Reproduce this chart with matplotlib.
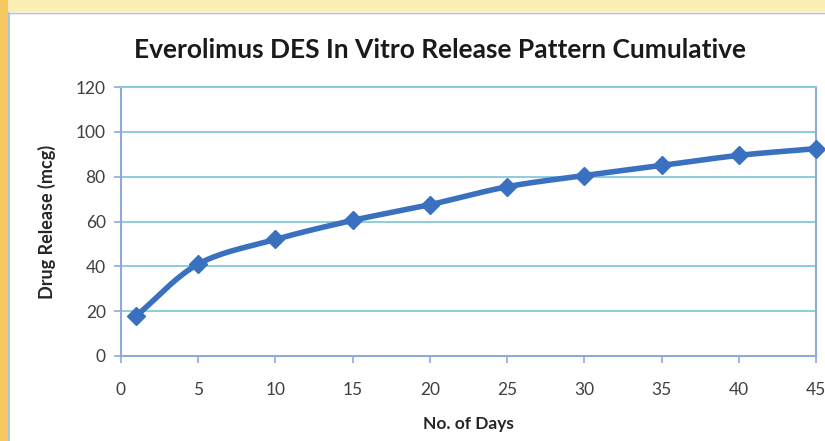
import numpy as np
import matplotlib.pyplot as plt
from matplotlib.patches import Rectangle

days = [1, 5, 10, 15, 20, 25, 30, 35, 40, 45]
release = [18, 41, 52, 60.5, 67.5, 75.5, 80.5, 85, 89.5, 92.5]
x_ticks = [0, 5, 10, 15, 20, 25, 30, 35, 40, 45]
y_ticks = [0, 20, 40, 60, 80, 100, 120]


def smooth(xs, ys, n=20):
    # Catmull-Rom curve through the points, like Excel's smoothed line
    xs = np.asarray(xs, float)
    ys = np.asarray(ys, float)
    px = np.concatenate([[2 * xs[0] - xs[1]], xs, [2 * xs[-1] - xs[-2]]])
    py = np.concatenate([[2 * ys[0] - ys[1]], ys, [2 * ys[-1] - ys[-2]]])
    out_x, out_y = [], []
    t = np.linspace(0, 1, n)
    for i in range(1, len(px) - 2):
        for p, o in ((px, out_x), (py, out_y)):
            p0, p1, p2, p3 = p[i - 1], p[i], p[i + 1], p[i + 2]
            o.extend(0.5 * (2 * p1 + (-p0 + p2) * t
                            + (2 * p0 - 5 * p1 + 4 * p2 - p3) * t ** 2
                            + (-p0 + 3 * p1 - 3 * p2 + p3) * t ** 3))
    return out_x, out_y


plt.rcParams['font.family'] = ['Lato', 'DejaVu Sans']

fig = plt.figure(figsize=(8.25, 4.41), dpi=100)
fig.patch.set_facecolor("white")

# slide background bands
fig.add_artist(Rectangle((0, 1 - 12 / 441), 1, 12 / 441, transform=fig.transFigure,
                         facecolor="#fcefb4", edgecolor="none", zorder=0))
fig.add_artist(Rectangle((0, 0), 8 / 825, 1, transform=fig.transFigure,
                         facecolor="#f7c862", edgecolor="none", zorder=0))
fig.add_artist(plt.Line2D([8.5 / 825, 8.5 / 825], [0, 1 - 12.5 / 441], transform=fig.transFigure,
                          color="#9db8e0", lw=1.2))
fig.add_artist(plt.Line2D([8.5 / 825, 1], [1 - 12.5 / 441, 1 - 12.5 / 441], transform=fig.transFigure,
                          color="#b8bcc4", lw=1.0))

ax = fig.add_axes([121 / 825, 1 - 356 / 441, (816 - 121) / 825, (356 - 87) / 441])
ax.set_facecolor("white")

sx, sy = smooth(days, release)
ax.plot(sx, sy, color="#3a70c0", lw=4.0, solid_capstyle="round", zorder=3, clip_on=False)
ax.plot(days, release, linestyle="none", marker="D", markersize=9,
        color="#3a70c0", zorder=4, clip_on=False)

ax.set_xlim(0, 45)
ax.set_ylim(0, 120)
ax.set_xticks(x_ticks)
ax.set_yticks(y_ticks)
ax.yaxis.grid(True, color="#7cc3d6", lw=1.2)
ax.set_axisbelow(True)

for s in ax.spines.values():
    s.set_color("#8eaadc")
    s.set_linewidth(1.5)
ax.spines["top"].set_color("#8ec6dc")

ax.tick_params(axis="both", colors="#8eaadc", length=5, width=1.2, direction="out",
               labelcolor="#404040", labelsize=12.5)
ax.tick_params(axis="x", pad=14)
ax.tick_params(axis="y", pad=6)

ax.set_xlabel("No. of Days", fontsize=12.5, fontweight="bold", color="#262626", labelpad=13)
ax.set_ylabel("Drug Release (mcg)", fontsize=13, fontweight="bold", color="#262626", labelpad=14)

fig.text(440 / 825, 1 - 50 / 441, "Everolimus DES In Vitro Release Pattern Cumulative",
         ha="center", va="center", fontsize=19, fontweight="bold", color="#1a1a1a")

fig.savefig("out.png", dpi=100)
